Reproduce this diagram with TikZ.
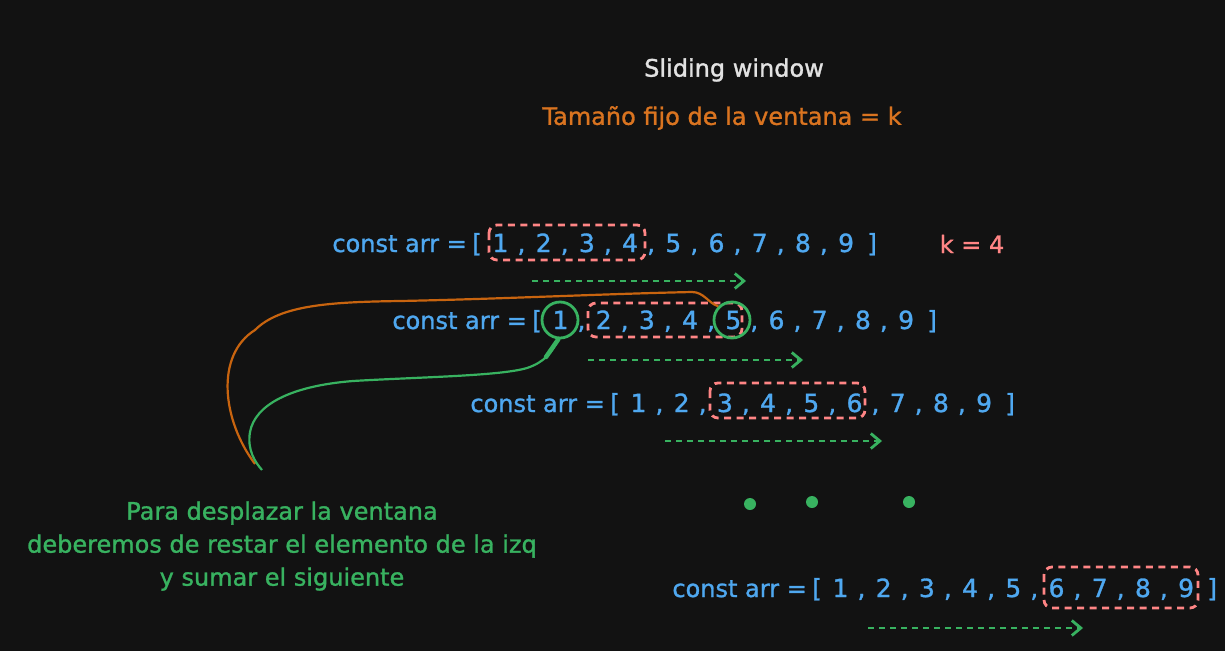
\documentclass[tikz,border=0pt]{standalone}
\usepackage{fontspec}
\setmainfont{DejaVu Sans}[FakeBold=1.2]
\usetikzlibrary{arrows.meta}
\definecolor{bg}{HTML}{121212}
\definecolor{txtblue}{HTML}{4FA8F0}
\definecolor{winred}{HTML}{FF8585}
\definecolor{grn}{HTML}{38B260}
\definecolor{orgtxt}{HTML}{DA7420}
\definecolor{orgline}{HTML}{C8640F}
\definecolor{ttl}{HTML}{E2E2E2}
\newcommand\myfont{\fontsize{24}{33}\selectfont}
\newcommand\numfont{\fontsize{25}{33}\selectfont}
\newcommand\arrrow[4]{%
  % #1 name, #2 bracket x, #3 baseline y, #4 unused
  \node[tok, font=\myfont, anchor=base east] (#1c) at (#2-10,#3) {const arr =};
  \node[tok] (#1o) at (#2,#3) {[};
  \foreach \i in {1,...,9}{
    \pgfmathsetmacro\xx{#2+23.5+(\i-1)*43.2}
    \node[tok] (#1n\i) at (\xx,#3) {\i};
  }
  \foreach \i in {1,...,8}{
    \pgfmathsetmacro\xx{#2+23.5+(\i-1)*43.2+21}
    \node[tok] (#1m\i) at (\xx,#3) {,};
  }
  \pgfmathsetmacro\xx{#2+23.5+8*43.2+26}
  \node[tok] (#1e) at (\xx,#3) {]};
}
\begin{document}
\begin{tikzpicture}[x=1pt,y=-1pt,
  tok/.style={anchor=base, inner sep=0pt, text=txtblue, font=\numfont},
  win/.style={draw=winred, line width=2.8pt, dash pattern=on 7pt off 5.5pt, rounded corners=8pt},
  slide/.style={draw=grn, line width=2.8pt, dash pattern=on 6pt off 5pt,
    -{Straight Barb[length=9pt,width=15pt,line width=2.8pt]}},
  ring/.style={circle, draw=grn, line width=2.8pt, minimum size=36pt, inner sep=0pt},
  dotn/.style={circle, fill=grn, minimum size=12pt, inner sep=0pt},
  lbl/.style={inner sep=0pt, font=\myfont}]
\fill[bg] (0,0) rectangle (1225,651);
\useasboundingbox (0,0) rectangle (1225,651);

\node[lbl, text=ttl] (title) at (734,70) {Sliding window};
\node[lbl, text=orgtxt] (sub) at (722,118) {Tamaño fijo de la ventana = k};

\arrrow{ra}{477}{252}{}
\arrrow{rb}{537}{329}{}
\arrrow{rc}{615}{412}{}
\arrrow{rd}{817}{597}{}

\node[lbl, text=winred, anchor=base] (kval) at (972,253) {k = 4};

% windows
\draw[win] (489,225) rectangle (645,260);
\draw[win] (588,303) rectangle (742,337);
\draw[win] (710,383) rectangle (865,418);
\draw[win] (1044,567) rectangle (1198,608);

% sliding arrows
\coordinate (a1s) at (532,281); \coordinate (a1e) at (746,281);
\coordinate (a2s) at (588,360); \coordinate (a2e) at (803,360);
\coordinate (a3s) at (665,441); \coordinate (a3e) at (882,441);
\coordinate (a4s) at (868,628); \coordinate (a4e) at (1083,628);
\draw[slide] (a1s) -- (a1e);
\draw[slide] (a2s) -- (a2e);
\draw[slide] (a3s) -- (a3e);
\draw[slide] (a4s) -- (a4e);

% circles
\node[ring] (k1) at (560,320) {};
\node[ring] (k5) at (732,320) {};

% dots
\node[dotn] (d1) at (750,504) {};
\node[dotn] (d2) at (812,502) {};
\node[dotn] (d3) at (909,502) {};

% note
\node[lbl, text=grn, align=center] (note) at (282,546)
  {Para desplazar la ventana\\deberemos de restar el elemento de la izq\\y sumar el siguiente};

% curves
\coordinate (oA) at (255,464);
\coordinate (gB) at (262,470);
\draw[orgline, line width=2.2pt] (oA) .. controls (222,420) and (215,355) .. (255,330)
  .. controls (280,305) and (330,302) .. (400,301)
  .. controls (500,299) and (600,294) .. (692,292)
  .. controls (704,292) and (708,303) .. (k5.135);
\draw[grn, line width=2.2pt] (k1.-95) .. controls (552,352) and (545,362) .. (527,368)
  .. controls (500,376) and (420,377) .. (353,381)
  .. controls (290,386) and (255,405) .. (250,432)
  .. controls (247,450) and (255,462) .. (gB);
\draw[grn, line width=4.5pt, line cap=round] (k1.-95) -- (546,357);
\end{tikzpicture}
\end{document}
